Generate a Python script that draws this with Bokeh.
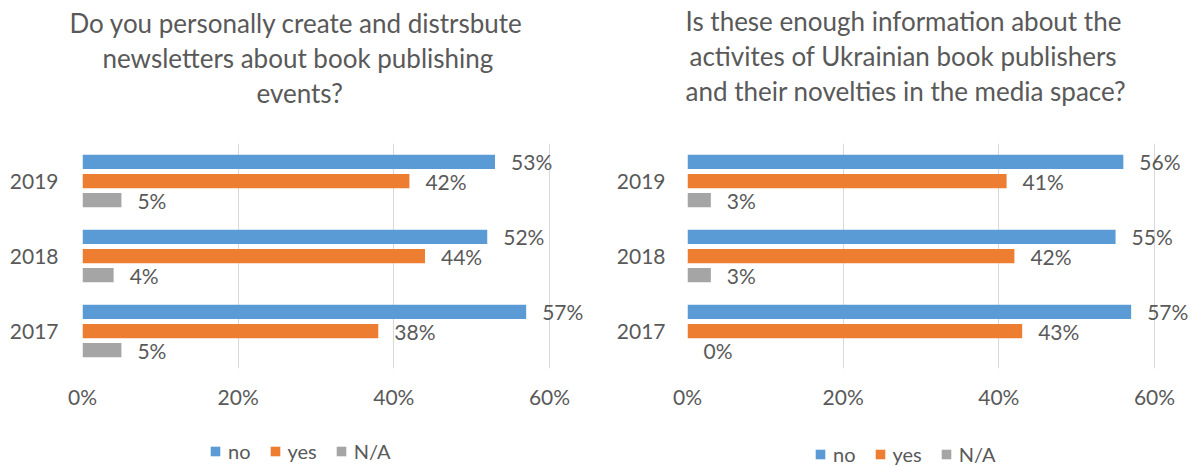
from bokeh.plotting import figure
from bokeh.models import (FactorRange, Range1d, FixedTicker, PrintfTickFormatter,
                          Title, Legend, LegendItem, ColumnDataSource)
from bokeh.transform import dodge
from bokeh.layouts import row, column
from bokeh.embed import file_html
from bokeh.resources import INLINE
from bokeh.core.properties import value

# ---- data ----
years = ["2017", "2018", "2019"]
series = ["no", "yes", "N/A"]
left_no = [57, 52, 53]
left_yes = [38, 44, 42]
left_na = [5, 4, 5]
right_no = [57, 55, 56]
right_yes = [43, 42, 41]
right_na = [0, 3, 3]
left_title = ["Do you personally create and distrsbute",
              "newsletters about book publishing",
              "events?"]
right_title = ["Is these enough information about the",
               "activites of Ukrainian book publishers",
               "and their novelties in the media space?"]
x_ticks = [0, 20, 40, 60]

colors = ["#5B9BD5", "#ED7D31", "#A5A5A5"]
FONT = "Lato"
TEXT = "#595959"
GRID = "#D9D9D9"
TOP_H = 418
LEG_H = 48
FRAME_TOP = 143
FRAME_H = 225


def make_chart(no, yes, na, title_lines, width, left_border, xmax,
               title_offsets, spacer, ylab_standoff):
    src = ColumnDataSource(dict(
        year=years, no=no, yes=yes, na=na,
        no_lbl=[f"{v}%" for v in no],
        yes_lbl=[f"{v}%" for v in yes],
        na_lbl=[f"{v}%" for v in na],
    ))
    p = figure(width=width, height=TOP_H, output_backend="svg", toolbar_location=None,
               y_range=FactorRange(factors=years), x_range=Range1d(0, xmax),
               title=None, tools="")
    p.min_border = 0
    p.min_border_left = left_border
    p.min_border_right = 0
    p.min_border_top = FRAME_TOP
    p.min_border_bottom = TOP_H - FRAME_TOP - FRAME_H
    p.outline_line_color = None
    p.background_fill_color = "white"
    p.border_fill_color = "white"

    for key, off, col in [("no", 0.255, colors[0]), ("yes", 0.0, colors[1]), ("na", -0.255, colors[2])]:
        p.hbar(y=dodge("year", off, range=p.y_range), left=0, right=key, height=0.19,
               fill_color=col, line_color=None, source=src)
        p.text(x=key, y=dodge("year", off, range=p.y_range), text=key + "_lbl", source=src,
               x_offset=16, text_align="left", text_baseline="middle",
               text_font=value(FONT), text_font_size="21px", text_color=TEXT)

    p.xaxis.ticker = FixedTicker(ticks=x_ticks)
    p.xaxis.formatter = PrintfTickFormatter(format="%d%%")
    for ax in (p.xaxis, p.yaxis):
        ax.axis_line_color = None
        ax.major_tick_line_color = None
        ax.minor_tick_line_color = None
        ax.major_tick_out = 0
        ax.major_tick_in = 0
        ax.major_label_text_font = FONT
        ax.major_label_text_font_size = "21px"
        ax.major_label_text_color = TEXT
    p.xaxis.major_label_standoff = 15
    p.yaxis.major_label_standoff = ylab_standoff
    p.xgrid.grid_line_color = GRID
    p.xgrid.grid_line_width = 1
    p.ygrid.visible = False

    # spacer between frame and the title block
    p.add_layout(Title(text=" ", standoff=spacer[1], text_font=FONT,
                       text_font_size=f"{spacer[0]}px"), "above")
    # title lines, innermost (last line) first
    for line, off in reversed(list(zip(title_lines, title_offsets))):
        p.add_layout(Title(text=line, align="left", offset=off, standoff=1,
                           text_font=FONT, text_font_size="26px", text_font_style="normal",
                           text_color=TEXT), "above")
    return p


def make_legend(width, loc):
    lp = figure(width=width, height=LEG_H, output_backend="svg", toolbar_location=None,
                x_axis_type=None, y_axis_type=None, tools="",
                x_range=Range1d(0, 1), y_range=Range1d(0, 1))
    lp.min_border = 0
    lp.outline_line_color = None
    lp.grid.visible = False
    # swatch carriers: one bar each, placed outside the visible range
    rs = [lp.hbar(y=[-5], left=[0], right=[1], height=0.5, fill_color=c, line_color=None)
          for c in colors]
    legend = Legend(items=[LegendItem(label=s, renderers=[r]) for s, r in zip(series, rs)],
                    orientation="horizontal", location=loc, padding=0, margin=0,
                    spacing=18, label_standoff=7, glyph_width=12, glyph_height=12,
                    background_fill_alpha=0, border_line_alpha=0,
                    label_text_font=FONT, label_text_font_size="20px", label_text_color=TEXT)
    lp.add_layout(legend, "center")
    return lp


p1 = make_chart(left_no, left_yes, left_na, left_title, 600, 82, 66.55,
                [-13, 20, 174], (20, 8), 24)
p2 = make_chart(right_no, right_yes, right_na, right_title, 595, 87, 65.27,
                [-2, 2, -2], (20, 10), 22)
l1 = make_legend(600, (209, 3))
l2 = make_legend(595, (214, 0))

layout = column(row(p1, p2), row(l1, l2))
open("out.html", "w").write(file_html(layout, INLINE))
